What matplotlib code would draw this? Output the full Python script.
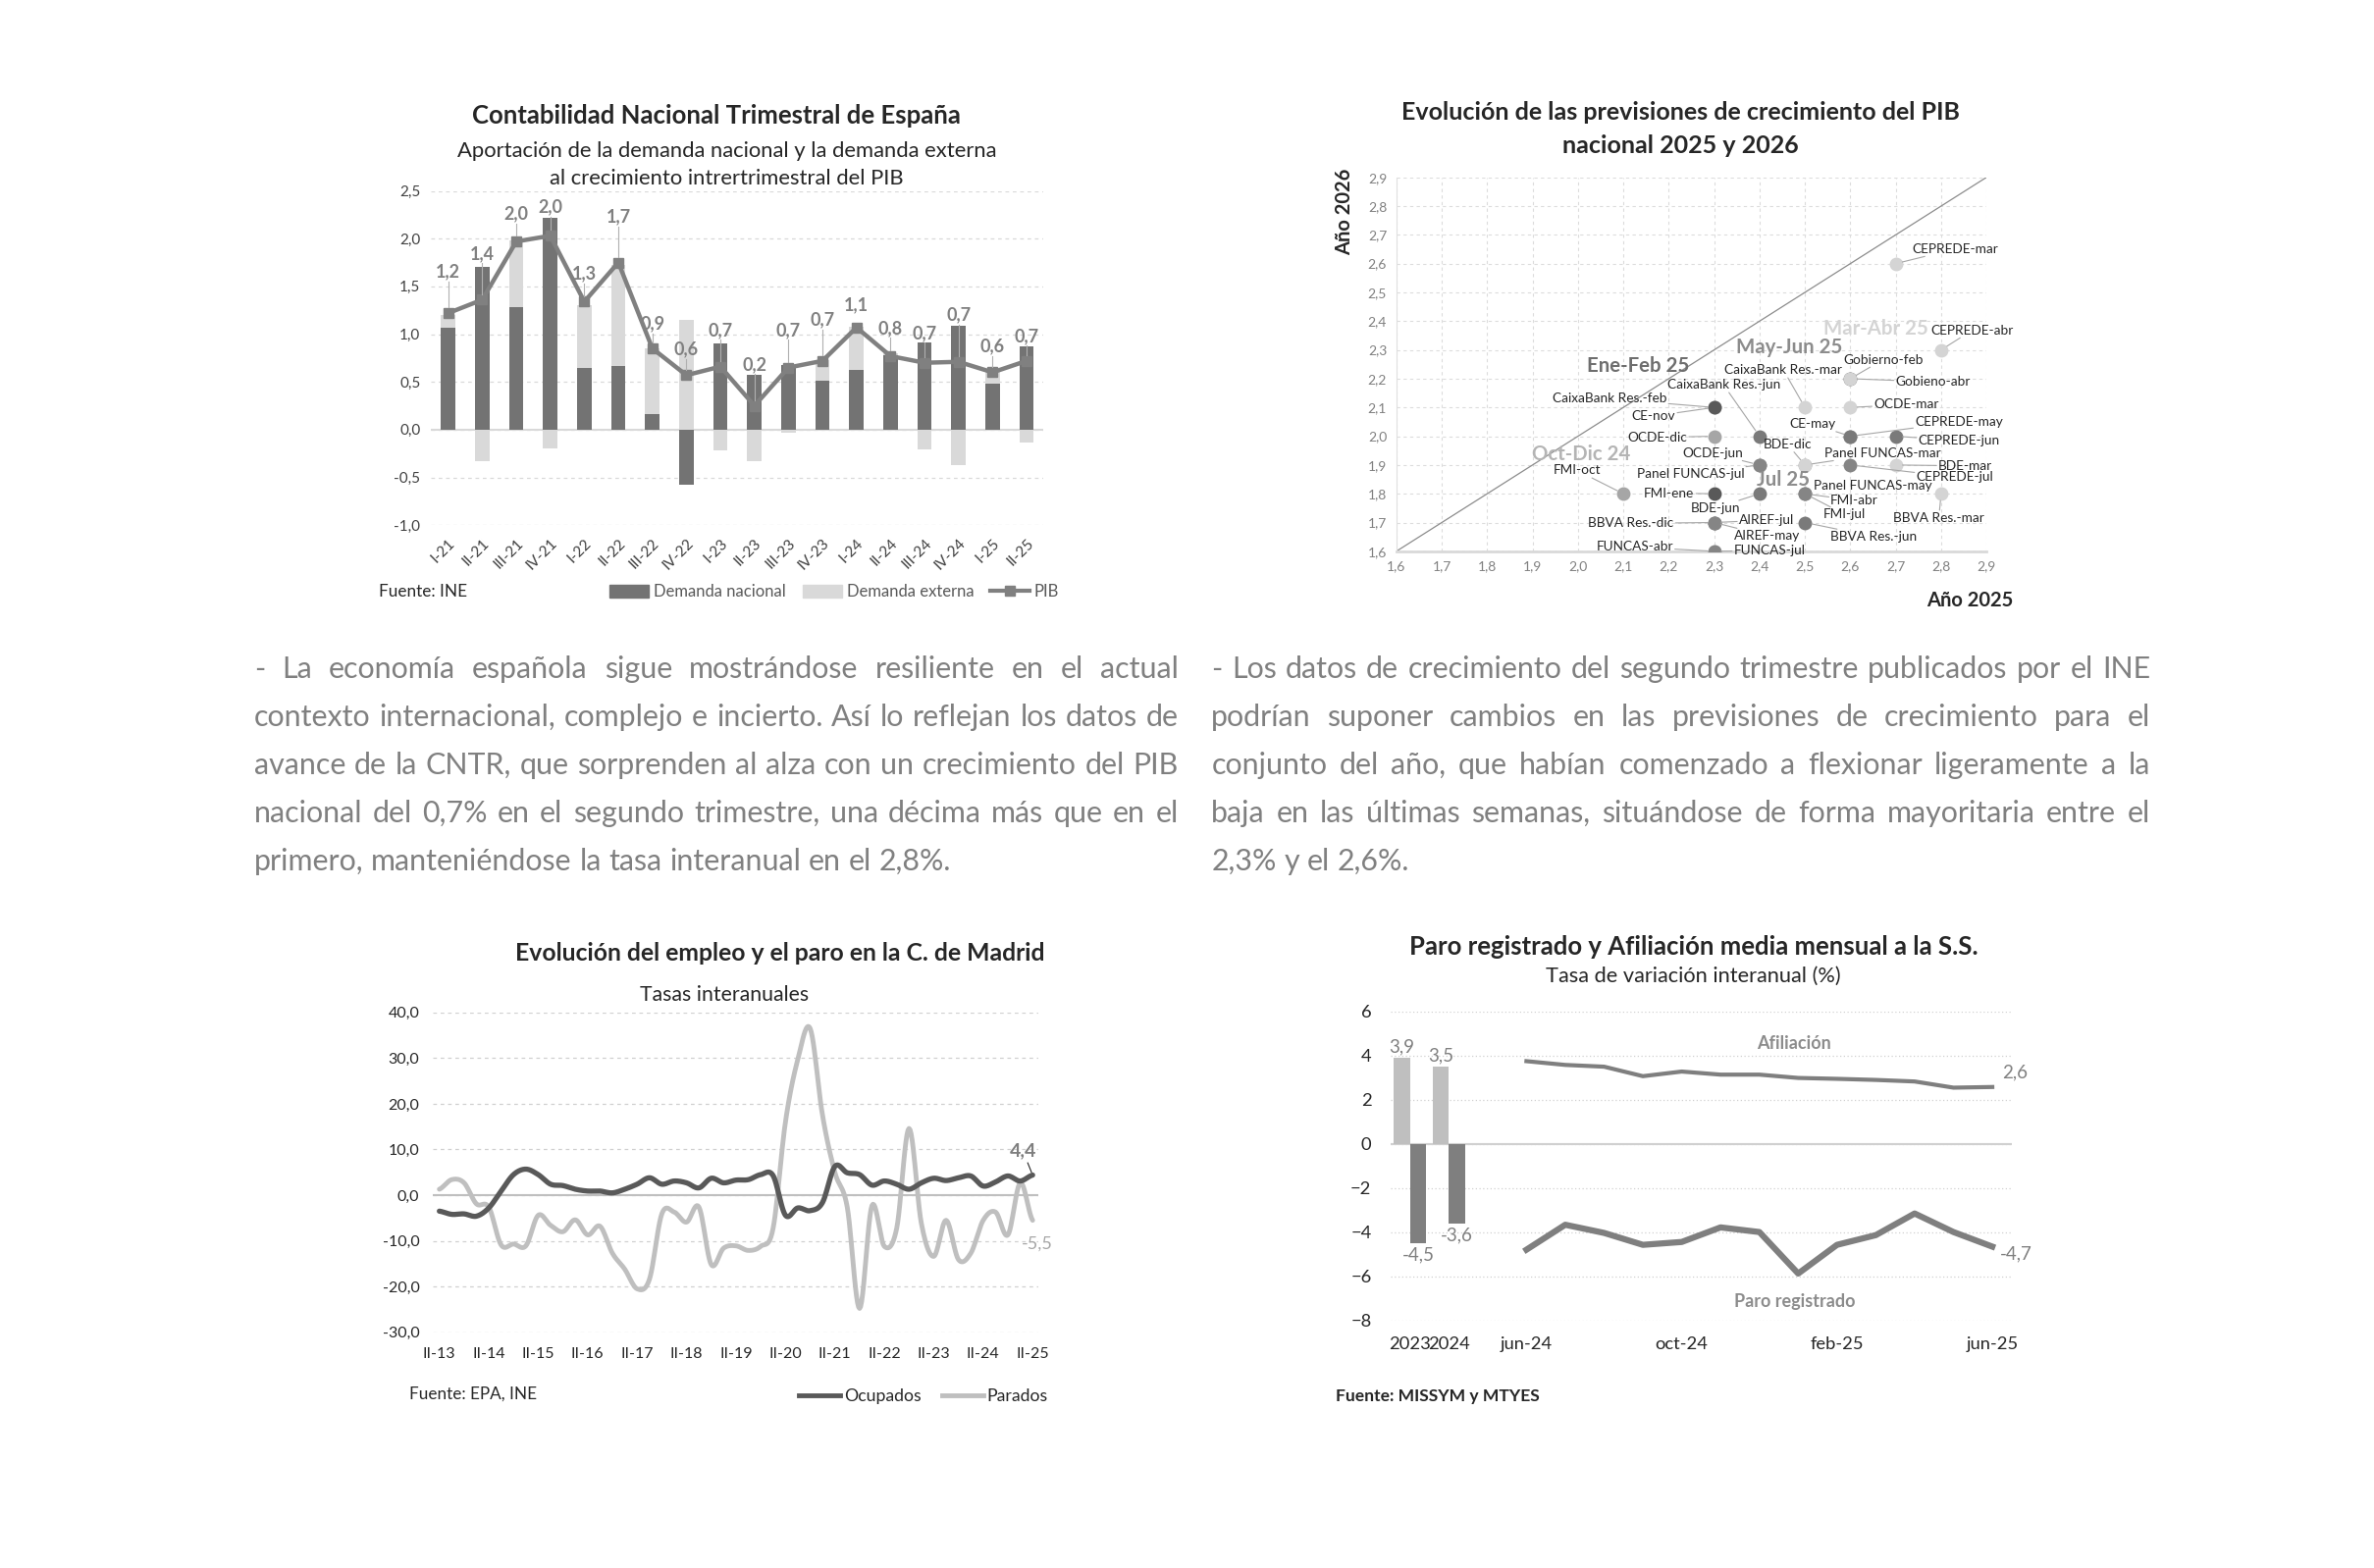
import numpy as np
import matplotlib
matplotlib.use('Agg')
import matplotlib.pyplot as plt
from matplotlib.patches import Patch
from matplotlib.lines import Line2D
from matplotlib.ticker import FuncFormatter

plt.rcParams['font.family'] = ['Lato', 'DejaVu Sans']

# ---------------------------------------------------------------
# DATA
# ---------------------------------------------------------------
# Chart 1: Contabilidad Nacional Trimestral
cats1 = ['I-21', 'II-21', 'III-21', 'IV-21', 'I-22', 'II-22', 'III-22', 'IV-22', 'I-23',
         'II-23', 'III-23', 'IV-23', 'I-24', 'II-24', 'III-24', 'IV-24', 'I-25', 'II-25']
dem_nac = [1.07, 1.70, 1.28, 2.22, 0.65, 0.67, 0.16, -0.58, 0.90,
           0.57, 0.68, 0.51, 0.63, 0.78, 0.91, 1.09, 0.48, 0.87]
dem_ext = [0.13, -0.33, 0.70, -0.20, 0.65, 1.05, 0.69, 1.15, -0.22,
           -0.33, -0.03, 0.22, 0.45, 0.02, -0.21, -0.37, 0.13, -0.14]
pib = [1.22, 1.36, 1.97, 2.03, 1.34, 1.75, 0.85, 0.57, 0.66,
       0.25, 0.65, 0.72, 1.07, 0.77, 0.70, 0.71, 0.60, 0.72]
pib_lab = ['1,2', '1,4', '2,0', '2,0', '1,3', '1,7', '0,9', '0,6', '0,7',
           '0,2', '0,7', '0,7', '1,1', '0,8', '0,7', '0,7', '0,6', '0,7']

# Chart 2: previsiones PIB 2025 / 2026
fc_names = ['FMI-oct', 'OCDE-dic', 'BBVA Res.-dic', 'CE-nov', 'BDE-dic',
            'CaixaBank Res.-feb', 'FMI-ene', 'Gobierno-feb',
            'CEPREDE-mar', 'CEPREDE-abr', 'Gobieno-abr', 'OCDE-mar', 'CaixaBank Res.-mar',
            'BDE-mar', 'BBVA Res.-mar', 'Panel FUNCAS-mar', 'FMI-abr', 'FUNCAS-abr',
            'CE-may', 'CEPREDE-may', 'CEPREDE-jun', 'CaixaBank Res.-jun', 'OCDE-jun',
            'BDE-jun', 'Panel FUNCAS-may', 'AIREF-may', 'BBVA Res.-jun',
            'AIREF-jul', 'FMI-jul', 'Panel FUNCAS-jul', 'FUNCAS-jul', 'CEPREDE-jul']
fc_2025 = [2.1, 2.3, 2.3, 2.3, 2.5,
           2.3, 2.3, 2.6,
           2.7, 2.8, 2.6, 2.6, 2.5, 2.7, 2.8, 2.5, 2.5, 2.3,
           2.6, 2.6, 2.7, 2.4, 2.4, 2.4, 2.5, 2.3, 2.5,
           2.3, 2.5, 2.4, 2.3, 2.6]
fc_2026 = [1.8, 2.0, 1.7, 2.1, 1.9,
           2.1, 1.8, 2.2,
           2.6, 2.3, 2.2, 2.1, 2.1, 1.9, 1.8, 1.9, 1.8, 1.6,
           2.0, 2.0, 2.0, 2.0, 1.9, 1.8, 1.8, 1.7, 1.7,
           1.7, 1.8, 1.9, 1.6, 1.9]
fc_group = ['oct'] * 5 + ['ene'] * 3 + ['mar'] * 10 + ['may'] * 9 + ['jul'] * 5
groups2 = ['oct', 'ene', 'mar', 'may', 'jul']
group_names = ['Oct-Dic 24', 'Ene-Feb 25', 'Mar-Abr 25', 'May-Jun 25', 'Jul 25']

# Chart 3: EPA Madrid, tasas interanuales II-13 .. II-25
quarters3 = ['II-13', 'II-14', 'II-15', 'II-16', 'II-17', 'II-18', 'II-19',
             'II-20', 'II-21', 'II-22', 'II-23', 'II-24', 'II-25']
ocupados = [-3.5, -4.2, -4.1, -4.6, -2.8, 0.9, 4.5, 5.7, 4.5, 2.4, 2.1, 1.3, 0.9,
            0.9, 0.5, 1.3, 2.4, 3.8, 2.4, 3.1, 2.7, 1.6, 3.7, 2.7, 3.3, 3.4, 4.5,
            4.3, -4.4, -2.8, -3.4, -1.6, 6.3, 4.9, 4.5, 2.2, 3.1, 2.4, 1.3, 2.7,
            3.7, 3.2, 3.8, 4.2, 2.0, 2.9, 4.2, 3.1, 4.4]
parados = [1.3, 3.4, 2.7, -1.9, -2.6, -10.9, -10.7, -11.1, -4.4, -6.6, -8.0, -5.4, -8.7,
           -6.8, -12.7, -16.2, -20.5, -18.4, -4.1, -3.7, -5.9, -2.6, -15.2, -11.6, -11.1,
           -12.1, -11.2, -7.3, 16.0, 29.7, 36.5, 17.5, 5.0, -2.6, -24.8, -2.3, -11.2,
           -7.3, 14.6, -6.2, -13.4, -5.5, -14.1, -12.7, -5.5, -3.7, -8.7, 2.7, -5.5]

# Chart 4: Paro registrado y afiliacion
years4 = ['2023', '2024']
afil_year = [3.9, 3.5]
paro_year = [-4.5, -3.6]
months4 = ['jun-24', 'jul-24', 'ago-24', 'sep-24', 'oct-24', 'nov-24', 'dic-24',
           'ene-25', 'feb-25', 'mar-25', 'abr-25', 'may-25', 'jun-25']
afil = [3.75, 3.58, 3.50, 3.07, 3.28, 3.14, 3.14, 2.99, 2.95, 2.90, 2.83, 2.55, 2.58]
paro = [-4.79, -3.66, -4.03, -4.57, -4.44, -3.78, -3.99, -5.87, -4.57, -4.13, -3.15, -3.99, -4.65]

# Texts
left_par = ["- La economía española sigue mostrándose resiliente en el actual",
            "contexto internacional, complejo e incierto. Así lo reflejan los datos de",
            "avance de la CNTR, que sorprenden al alza con un crecimiento del PIB",
            "nacional del 0,7% en el segundo trimestre, una décima más que en el",
            "primero, manteniéndose la tasa interanual en el 2,8%."]
right_par = ["- Los datos de crecimiento del segundo trimestre publicados por el INE",
             "podrían suponer cambios en las previsiones de crecimiento para el",
             "conjunto del año, que habían comenzado a flexionar ligeramente a la",
             "baja en las últimas semanas, situándose de forma mayoritaria entre el",
             "2,3% y el 2,6%."]

# ---------------------------------------------------------------
# HELPERS
# ---------------------------------------------------------------
W, H = 2419, 1598
S = 0.9874
fig = plt.figure(figsize=(W / 100, H / 100), dpi=100)
fig.patch.set_facecolor('white')


def px_ax(l, t, r, b):
    l, t, r, b = l * S, t * S, r * S, b * S
    return fig.add_axes([l / W, 1 - b / H, (r - l) / W, (b - t) / H])


def ftext(x, y, s, **kw):
    return fig.text(x * S / W, 1 - y * S / H, s, **kw)


def comma(d):
    return FuncFormatter(lambda v, p: f'{v:.{d}f}'.replace('.', ','))


def clean(ax):
    for s in ax.spines.values():
        s.set_visible(False)
    ax.tick_params(length=0)


def smooth(y, n=12):
    # Catmull-Rom curve through the data points (Excel "smoothed line")
    y = np.asarray(y, float)
    p = np.concatenate([[y[0]], y, [y[-1]]])
    xs, ys = [], []
    t = np.linspace(0, 1, n, endpoint=False)
    for i in range(len(y) - 1):
        p0, p1, p2, p3 = p[i], p[i + 1], p[i + 2], p[i + 3]
        ys.append(0.5 * (2 * p1 + (-p0 + p2) * t + (2 * p0 - 5 * p1 + 4 * p2 - p3) * t ** 2
                         + (-p0 + 3 * p1 - 3 * p2 + p3) * t ** 3))
        xs.append(i + t)
    xs.append([len(y) - 1])
    ys.append([y[-1]])
    return np.concatenate(xs), np.concatenate(ys)


renderer = fig.canvas.get_renderer()


def text_w(s, **kw):
    t = fig.text(0, 0, s, **kw)
    w = t.get_window_extent(renderer).width
    t.remove()
    return w


def fit_size(pars, width, base, **kw):
    # largest size at which the tightest justified line still fits
    ratio = min(width / text_w(line, fontsize=base, **kw)
                for lines in pars for line in lines[:-1])
    return base * ratio


def justify(lines, x0, x1, y0, dy, **kw):
    x0, x1, y0, dy = x0 * S, x1 * S, y0 * S, dy * S
    space = text_w('x x', **kw) - text_w('xx', **kw)
    for k, line in enumerate(lines):
        words = line.split(' ')
        arts = [fig.text(0, 1 - (y0 + k * dy) / H, w, ha='left', va='center', **kw)
                for w in words]
        ws = [t.get_window_extent(renderer).width for t in arts]
        if k == len(lines) - 1:
            gap = space
        else:
            gap = (x1 - x0 - sum(ws)) / (len(words) - 1)
        x = x0
        for t, w in zip(arts, ws):
            t.set_x(x / W)
            x += w + gap


TITLE = dict(ha='center', va='center', fontweight='bold', color='#262626')
SUB = dict(ha='center', va='center', color='#262626')

# ---------------------------------------------------------------
# CHART 1
# ---------------------------------------------------------------
ftext(739, 120, 'Contabilidad Nacional Trimestral de España', fontsize=18.5, **TITLE)
ftext(750, 156, 'Aportación de la demanda nacional y la demanda externa', fontsize=15.8, **SUB)
ftext(750, 184, 'al crecimiento intrertrimestral del PIB', fontsize=15.8, **SUB)

ax1 = px_ax(445, 197, 1077, 542)
x1 = np.arange(len(cats1))
nac = np.array(dem_nac)
ext = np.array(dem_ext)
ext_bottom = np.where(np.sign(ext) == np.sign(nac), nac, 0)
ax1.bar(x1, nac, 0.42, color='#737373', zorder=2)
ax1.bar(x1, ext, 0.42, bottom=ext_bottom, color='#d9d9d9', zorder=2)
ax1.plot(x1, pib, color='#808080', lw=3.2, marker='s', ms=7.5, zorder=3)
ax1.axhline(0, color='#d9d9d9', lw=1.5, zorder=1)
ax1.set_xlim(-0.5, 17.5)
ax1.set_ylim(-1.0, 2.5)
ax1.set_yticks(np.arange(-1.0, 2.51, 0.5))
ax1.yaxis.set_major_formatter(comma(1))
ax1.grid(axis='y', ls=(0, (3, 3)), color='#d9d9d9', lw=0.9)
ax1.set_axisbelow(True)
ax1.set_xticks(x1, cats1, rotation=45, ha='right', rotation_mode='anchor')
clean(ax1)
ax1.tick_params(labelsize=11, labelcolor='#404040', pad=8)

lab_pos1 = [1.65, 1.84, 2.26, 2.33, 1.63, 2.23, 1.11, 0.84, 1.04,
            0.68, 1.04, 1.15, 1.31, 1.06, 1.01, 1.20, 0.87, 0.98]
for i, (yl, s) in enumerate(zip(lab_pos1, pib_lab)):
    ax1.text(i, yl, s, ha='center', va='center', fontsize=13, color='#808080',
             fontweight='bold', zorder=4)
    if yl - pib[i] > 0.25:
        ax1.plot([i, i], [yl - 0.1, pib[i] + 0.06], color='#b0b0b0', lw=0.8, zorder=4)

ftext(391, 611, 'Fuente: INE', ha='left', va='center', fontsize=12.3, color='#262626')
h1 = [Patch(color='#737373'), Patch(color='#d9d9d9'),
      Line2D([], [], color='#808080', lw=3, marker='s', ms=7)]
fig.legend(h1, ['Demanda nacional', 'Demanda externa', 'PIB'], loc='center',
           bbox_to_anchor=(861 * S / W, 1 - 611 * S / H), ncol=3, frameon=False, fontsize=12,
           labelcolor='#595959', handlelength=2.4, handleheight=0.8, columnspacing=1.0,
           handletextpad=0.3)

# ---------------------------------------------------------------
# CHART 2
# ---------------------------------------------------------------
ftext(1734, 116, 'Evolución de las previsiones de crecimiento del PIB', fontsize=18, **TITLE)
ftext(1734, 150, 'nacional 2025 y 2026', fontsize=18, **TITLE)

ax2 = px_ax(1441, 183, 2050, 569)
ax2.set_xlim(1.6, 2.9)
ax2.set_ylim(1.6, 2.9)
ticks2 = np.round(np.arange(1.6, 2.91, 0.1), 1)
ax2.set_xticks(ticks2)
ax2.set_yticks(ticks2)
ax2.xaxis.set_major_formatter(comma(1))
ax2.yaxis.set_major_formatter(comma(1))
ax2.grid(True, ls=(0, (3, 3)), color='#dcdcdc', lw=0.8)
ax2.set_axisbelow(True)
clean(ax2)
ax2.spines['bottom'].set_visible(True)
ax2.spines['bottom'].set_color('#d9d9d9')
ax2.spines['bottom'].set_linewidth(2)
ax2.spines['left'].set_visible(True)
ax2.spines['left'].set_color('#e0e0e0')
ax2.tick_params(labelsize=10, labelcolor='#808080', pad=7)
ax2.plot([1.6, 2.9], [1.6, 2.9], color='#8c8c8c', lw=0.9, zorder=1)

pt_col = {'oct': '#a6a6a6', 'ene': '#595959', 'mar': '#d4d4d4', 'may': '#7a7a7a', 'jul': '#858585'}
grp_col = {'oct': '#b4b4b4', 'ene': '#6e6e6e', 'mar': '#d4d4d4', 'may': '#8c8c8c', 'jul': '#8c8c8c'}
grp_pos = [(2.008, 1.938), (2.133, 2.243), (2.657, 2.374), (2.465, 2.309), (2.453, 1.849)]
lab_pos2 = [(1.998, 1.881), (2.175, 1.996), (2.117, 1.697), (2.167, 2.070), (2.462, 1.971),
            (2.070, 2.130), (2.201, 1.802), (2.672, 2.266),
            (2.831, 2.651), (2.868, 2.368), (2.782, 2.189), (2.723, 2.110), (2.453, 2.229),
            (2.853, 1.897), (2.795, 1.717), (2.672, 1.941), (2.609, 1.777), (2.125, 1.615),
            (2.517, 2.042), (2.839, 2.049), (2.839, 1.985), (2.321, 2.178), (2.296, 1.941),
            (2.303, 1.751), (2.649, 1.827), (2.416, 1.654), (2.651, 1.651),
            (2.415, 1.708), (2.588, 1.728), (2.248, 1.870), (2.422, 1.603), (2.830, 1.858)]

for g in groups2:
    xs = [a for a, gg in zip(fc_2025, fc_group) if gg == g]
    ys = [b for b, gg in zip(fc_2026, fc_group) if gg == g]
    ax2.scatter(xs, ys, s=100, color=pt_col[g], zorder=3, linewidths=0)
for name, xv, yv, (lx, ly) in zip(fc_names, fc_2025, fc_2026, lab_pos2):
    ax2.annotate(name, (xv, yv), xytext=(lx, ly), ha='center', va='center', fontsize=9.8,
                 color='#262626', zorder=5,
                 bbox=dict(boxstyle='square,pad=0.12', fc='none', ec='none'),
                 arrowprops=dict(arrowstyle='-', color='#a6a6a6', lw=0.8, shrinkA=0, shrinkB=5))
for g, nm, (gx, gy) in zip(groups2, group_names, grp_pos):
    ax2.text(gx, gy, nm, ha='center', va='center', fontsize=14.7, fontweight='bold',
             color=grp_col[g], zorder=5)

ftext(1388, 219, 'Año 2026', rotation=90, ha='center', va='center', fontsize=14.5,
      fontweight='bold', color='#262626')
ftext(2078, 620, 'Año 2025', ha='right', va='center', fontsize=14.5, fontweight='bold',
      color='#262626')

# ---------------------------------------------------------------
# TEXT PARAGRAPHS
# ---------------------------------------------------------------
PAR = dict(color='#808080')
par_size = fit_size([left_par, right_par], (1216 - 262) * S, 20, **PAR)
justify(left_par, 262, 1216, 691, 49.5, fontsize=par_size, **PAR)
justify(right_par, 1250, 2219, 691, 49.5, fontsize=par_size, **PAR)

# ---------------------------------------------------------------
# CHART 3
# ---------------------------------------------------------------
ftext(805, 984, 'Evolución del empleo y el paro en la C. de Madrid', fontsize=17.8, **TITLE)
ftext(747, 1027, 'Tasas interanuales', fontsize=15.3, **SUB)

ax3 = px_ax(447, 1045, 1072, 1375)
sx, so = smooth(ocupados)
_, sp = smooth(parados)
ax3.plot(sx, sp, color='#bfbfbf', lw=3.5, zorder=3, solid_capstyle='round')
ax3.plot(sx, so, color='#595959', lw=3.8, zorder=4, solid_capstyle='round')
ax3.axhline(0, color='#bfbfbf', lw=1.5, zorder=1)
ax3.set_xlim(-0.5, len(ocupados) - 0.5)
ax3.set_ylim(-30, 40)
ax3.set_yticks(np.arange(-30, 41, 10))
ax3.yaxis.set_major_formatter(comma(1))
ax3.set_xticks(np.arange(0, len(ocupados), 4), quarters3)
ax3.grid(axis='y', ls=(0, (3, 3)), color='#d0d0d0', lw=0.9)
ax3.set_axisbelow(True)
clean(ax3)
ax3.tick_params(labelsize=11.5, labelcolor='#262626')
ax3.tick_params(axis='y', pad=10)
ax3.tick_params(axis='x', pad=11)
ax3.annotate('4,4', (48, ocupados[-1]), xytext=(47.2, 9.8), ha='center', va='center',
             fontsize=14, fontweight='bold', color='#7f7f7f',
             arrowprops=dict(arrowstyle='-', color='#262626', lw=0.8, shrinkA=1, shrinkB=2))
ax3.text(48.4, -10.7, '-5,5', ha='center', va='center', fontsize=13, color='#a6a6a6')

ftext(422, 1439, 'Fuente: EPA, INE', ha='left', va='center', fontsize=12.3, color='#262626')
h3 = [Line2D([], [], color='#595959', lw=3.5), Line2D([], [], color='#bfbfbf', lw=3.5)]
fig.legend(h3, ['Ocupados', 'Parados'], loc='center', bbox_to_anchor=(953 * S / W, 1 - 1441 * S / H),
           ncol=2, frameon=False, fontsize=12.7, labelcolor='#262626', handlelength=2.4,
           columnspacing=1.2, handletextpad=0.2)

# ---------------------------------------------------------------
# CHART 4
# ---------------------------------------------------------------
ftext(1748, 977, 'Paro registrado y Afiliación media mensual a la S.S.', fontsize=18.5, **TITLE)
ftext(1747, 1008, 'Tasa de variación interanual (%)', fontsize=15.7, **SUB)

ax4 = px_ax(1435, 1044, 2076, 1363)
xb = np.arange(len(years4))
ax4.bar(xb - 0.21, afil_year, 0.42, color='#bfbfbf', zorder=2)
ax4.bar(xb + 0.21, paro_year, 0.42, color='#7f7f7f', zorder=2)
xm = np.arange(len(months4)) + len(years4) + 1
ax4.plot(xm, afil, color='#7f7f7f', lw=3, zorder=3)
ax4.plot(xm, paro, color='#7f7f7f', lw=4.5, zorder=3)
ax4.axhline(0, color='#d0d0d0', lw=1.5, zorder=1)
ax4.set_xlim(-0.5, xm[-1] + 0.5)
ax4.set_ylim(-8, 6)
ax4.set_yticks(np.arange(-8, 7, 2))
ax4.set_xticks(list(xb) + list(xm[::4]), years4 + months4[::4])
ax4.grid(axis='y', ls=(0, (1, 2)), color='#d0d0d0', lw=0.9)
ax4.set_axisbelow(True)
clean(ax4)
ax4.tick_params(labelsize=13.2, labelcolor='#262626')
ax4.tick_params(axis='y', pad=14)
ax4.tick_params(axis='x', pad=12)

for i in range(len(years4)):
    ax4.text(xb[i] - 0.21, afil_year[i] + 0.1, f'{afil_year[i]:.1f}'.replace('.', ','),
             ha='center', va='bottom', fontsize=13.5, color='#808080')
    ax4.text(xb[i] + 0.21, paro_year[i] - 0.15, f'{paro_year[i]:.1f}'.replace('.', ','),
             ha='center', va='top', fontsize=13.5, color='#808080')
ax4.text(xm[-1] + 0.25, afil[-1] + 0.3, '2,6', ha='left', va='bottom', fontsize=13.5,
         color='#808080')
ax4.text(xm[-1] + 0.2, paro[-1] - 0.35, '-4,7', ha='left', va='center', fontsize=13.5,
         color='#808080')
ax4.text(9.9, 4.55, 'Afiliación', ha='center', va='center', fontsize=13,
         fontweight='bold', color='#8c8c8c')
ax4.text(9.9, -7.16, 'Paro registrado', ha='center', va='center', fontsize=13,
         fontweight='bold', color='#8c8c8c')

ftext(1378, 1441, 'Fuente: MISSYM y MTYES', ha='left', va='center', fontsize=12.6,
      fontweight='bold', color='#262626')

fig.savefig('out.png', dpi=100, facecolor='white')
